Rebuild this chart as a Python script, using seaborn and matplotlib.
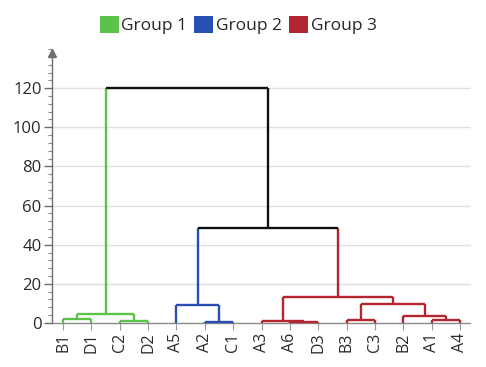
import matplotlib
matplotlib.use("Agg")
import matplotlib.pyplot as plt
from matplotlib.patches import Patch
from matplotlib.ticker import MultipleLocator
import seaborn as sns
import pandas as pd

# Leaves in display order
leaves = ["B1", "D1", "C2", "D2", "A5", "A2", "C1", "A3", "A6", "D3",
          "B3", "C3", "B2", "A1", "A4"]

# Merge steps: (left child, right child, height); children are leaf names
# or indices of earlier merges
merge_left = ["B1", "C2", 0, "A2", "A5", "A6", "A3", "B3", "A1", "B2", 7, 6, 4, 2]
merge_right = ["D1", "D2", 1, "C1", 3, "D3", 5, "C3", "A4", 8, 9, 10, 11, 12]
merge_height = [1.8, 1.2, 4.8, 0.7, 9.2, 0.6, 1.2, 1.4, 1.5, 3.6, 9.5, 13.4, 48.5, 120.0]
merge_group = ["Group 1", "Group 1", "Group 1", "Group 2", "Group 2",
               "Group 3", "Group 3", "Group 3", "Group 3", "Group 3",
               "Group 3", "Group 3", "link", "link"]

group_names = ["Group 1", "Group 2", "Group 3"]
palette = {"Group 1": "#5cc24a", "Group 2": "#2a4fb3", "Group 3": "#b3252f",
           "link": "#111111"}

# Build dendrogram segments
leaf_x = {name: i for i, name in enumerate(leaves)}
node_x, node_h = {}, {}


def child_pos(c):
    if isinstance(c, str):
        return leaf_x[c], 0.0
    return node_x[c], node_h[c]


def child_group(c, parent_group):
    if isinstance(c, str):
        return parent_group
    return merge_group[c]


rows = []
seg = 0
for k, (l, r, h, g) in enumerate(zip(merge_left, merge_right, merge_height, merge_group)):
    xl, hl = child_pos(l)
    xr, hr = child_pos(r)
    node_x[k], node_h[k] = (xl + xr) / 2, h
    for (x0, y0, x1, y1, grp) in [
        (xl, hl, xl, h, child_group(l, g)),
        (xr, hr, xr, h, child_group(r, g)),
        (xl, h, xr, h, g),
    ]:
        rows.append({"seg": seg, "x": x0, "y": y0, "grp": grp})
        rows.append({"seg": seg, "x": x1, "y": y1, "grp": grp})
        seg += 1

df = pd.DataFrame(rows)

sns.set_theme(style="white")
plt.rcParams["font.family"] = ["Open Sans", "DejaVu Sans"]

fig = plt.figure(figsize=(4.86, 3.67), dpi=100)
ax = fig.add_axes([0.107, 0.12, 0.86, 0.757])

ymax = 142
ax.set_xlim(-0.39, 14.35)
ax.set_ylim(0, ymax)

# grid
for v in range(20, 121, 20):
    ax.axhline(v, color="#e4dede", lw=1.0, zorder=0)
ax.axhline(0, color="#8a8a8a", lw=1.0, zorder=1)

sns.lineplot(data=df, x="x", y="y", units="seg", hue="grp", palette=palette,
             estimator=None, sort=False, legend=False, lw=1.7, ax=ax,
             zorder=3, solid_capstyle="butt")
for line in ax.lines:
    line.set_clip_on(False)

# axes styling
for s in ["top", "right", "bottom"]:
    ax.spines[s].set_visible(False)
ax.spines["left"].set_color("#6e6e6e")
ax.spines["left"].set_linewidth(1.0)
ax.spines["left"].set_bounds(0, 136)
ax.plot([0], [ymax - 4], marker="^", markersize=6, color="#6e6e6e",
        transform=ax.get_yaxis_transform(), clip_on=False, zorder=5)

ax.yaxis.set_major_locator(MultipleLocator(20))
ax.yaxis.set_minor_locator(MultipleLocator(4))
ax.set_yticks(range(0, 121, 20))
ax.tick_params(axis="y", which="major", length=6, width=1.0, color="#6e6e6e",
               labelsize=12, labelcolor="#2a2a2a", pad=1.5, left=True)
ax.tick_params(axis="y", which="minor", length=3, width=0.8, color="#8a8a8a", left=True)
ax.set_xticks(range(len(leaves)))
ax.set_xticklabels(leaves, rotation=90)
ax.tick_params(axis="x", which="major", length=5, width=0.8, color="#9a9a9a",
               labelsize=11.5, labelcolor="#2a2a2a", pad=2, bottom=True)
ax.set_xlabel("")
ax.set_ylabel("")

handles = [Patch(facecolor=palette[g], edgecolor="none", label=g) for g in group_names]
fig.legend(handles=handles, loc="center", bbox_to_anchor=(0.49, 0.932), ncol=3,
           frameon=False, fontsize=12.5, handlelength=1.1, handleheight=1.15,
           handletextpad=0.15, columnspacing=0.4, borderaxespad=0)

fig.savefig("out.png", dpi=100)
